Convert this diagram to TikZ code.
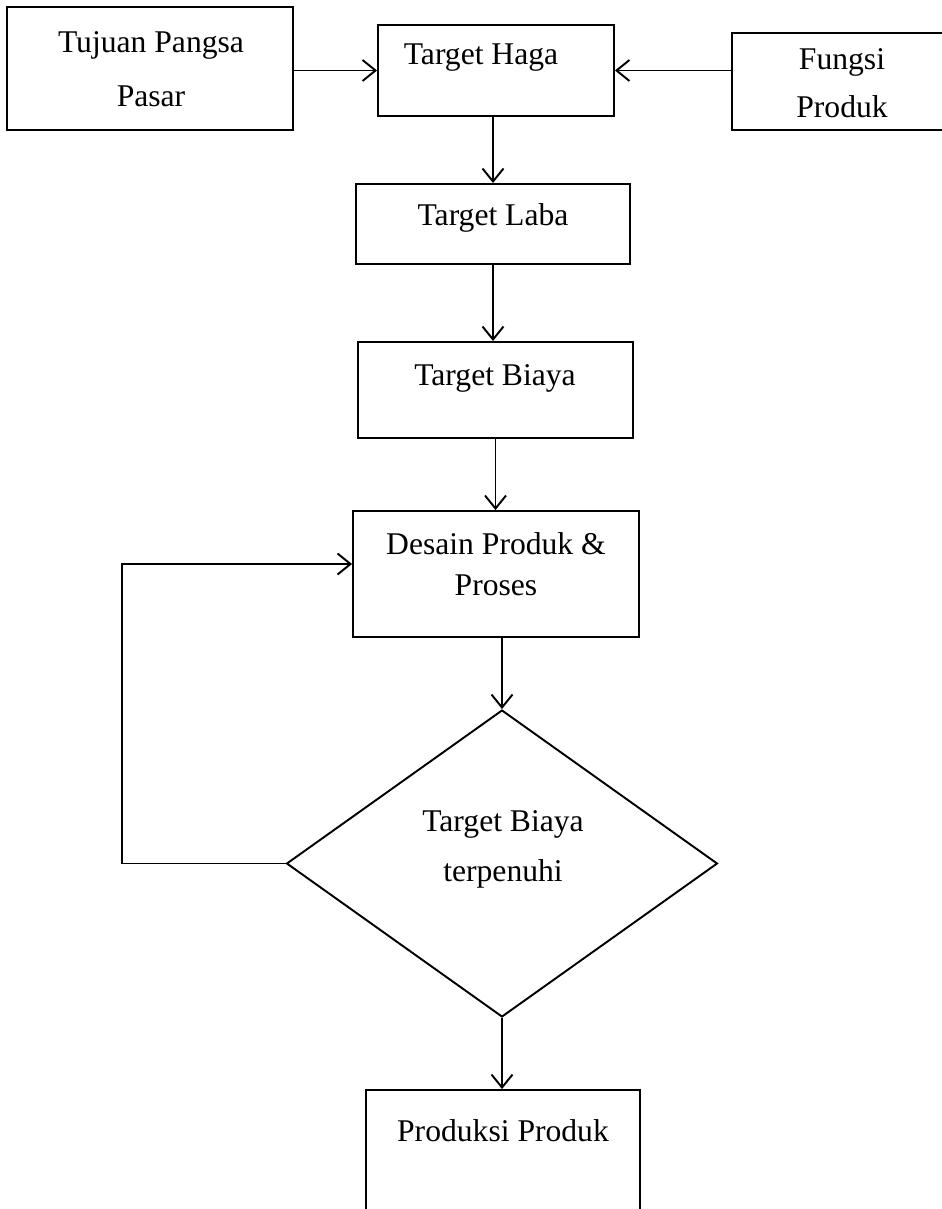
\documentclass[tikz,border=0pt]{standalone}
\usepackage{fontspec}
\setmainfont{Liberation Serif}
\usetikzlibrary{arrows.meta,shapes.geometric}

\begin{document}
\begin{tikzpicture}[x=0.02cm, y=-0.02cm, line width=1.1pt,
    font=\fontsize{18}{21.5}\selectfont,
    >={Straight Barb[length=0.26cm, width=0.42cm]},
    box/.style={draw, rectangle, inner sep=0pt},
    txt/.style={align=center, inner sep=0pt}]
    \useasboundingbox (0,0) rectangle (942,1209);
    \node[box, minimum width=5.72cm, minimum height=2.46cm] at (150,68.5) (tujuan) {};
    \node[box, minimum width=4.72cm, minimum height=1.82cm] at (496,70.5) (haga) {};
    \node[box, minimum width=4.96cm, minimum height=1.94cm] at (856,81.5) (fungsi) {};
    \node[box, minimum width=5.48cm, minimum height=1.6cm] at (493,224) (laba) {};
    \node[box, minimum width=5.5cm, minimum height=1.92cm] at (495.5,390) (biaya) {};
    \node[box, minimum width=5.72cm, minimum height=2.52cm] at (496,574) (desain) {};
    \node[draw, diamond, inner sep=0pt, minimum width=8.62cm, minimum height=6.14cm] at (502,863.5) (cek) {};
    \node[box, minimum width=5.48cm, minimum height=3cm] at (503,1165) (produksi) {};

    \node[txt] at (151,69) (tujuanT) {Tujuan Pangsa\\[9pt]Pasar};
    \node[txt] at (481,58) (hagaT) {Target Haga};
    \node[txt] at (842,83) (fungsiT) {Fungsi\\[6pt]Produk};
    \node[txt] at (493,218) (labaT) {Target Laba};
    \node[txt] at (495,378) (biayaT) {Target Biaya};
    \node[txt] at (496,564) (desainT) {Desain Produk \&\\[2pt]Proses};
    \node[txt] at (503,849) (cekT) {Target Biaya\\[7pt]terpenuhi};
    \node[txt] at (503,1131) (produksiT) {Produksi Produk};

    \coordinate (balik) at (122,564);
    \draw[->] (tujuan.east |- haga) -- (haga.west);
    \draw[->] (fungsi.west |- haga) -- (haga.east);
    \draw[->] (haga.south -| laba) -- (laba.north);
    \draw[->] (laba.south) -- (laba.south |- biaya.north);
    \draw[->] (biaya.south) -- (biaya.south |- desain.north);
    \draw[->] (desain.south -| cek.north) -- (cek.north);
    \draw[->] (cek.south) -- (cek.south |- produksi.north);
    \draw[->] (cek.west) -| (balik) -- (balik -| desain.west);
\end{tikzpicture}
\end{document}
